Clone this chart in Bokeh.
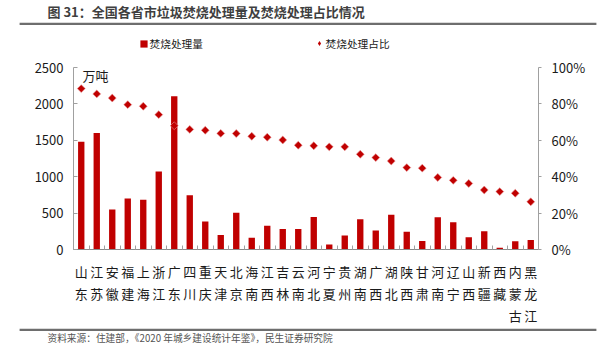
import numpy as np
from bokeh.plotting import figure
from bokeh.layouts import column
from bokeh.models import (Range1d, LinearAxis, FixedTicker, PrintfTickFormatter,
                          Label, Legend, LegendItem)
from bokeh.embed import file_html
from bokeh.resources import INLINE

# ---- data ----
provinces = ["山东", "江苏", "安徽", "福建", "上海", "浙江", "广东", "四川", "重庆", "天津",
             "北京", "海南", "江西", "吉林", "云南", "河北", "宁夏", "贵州", "湖南", "广西",
             "湖北", "陕西", "甘肃", "河南", "辽宁", "山西", "新疆", "西藏", "内蒙古", "黑龙江"]
volume = [1480, 1600, 550, 700, 683, 1070, 2105, 746, 385, 199,
          506, 163, 325, 280, 280, 448, 68, 194, 416, 262,
          479, 244, 118, 443, 375, 167, 249, 23, 113, 131]
share = [88.4, 85.5, 83.2, 79.6, 78.7, 74.1, 68.0, 66.0, 65.5, 63.8,
         63.7, 62.2, 61.7, 60.2, 57.3, 57.0, 56.4, 56.4, 52.3, 50.5,
         48.6, 45.0, 44.7, 39.6, 38.0, 36.3, 32.7, 31.8, 30.9, 26.2]
left_ticks = [0, 500, 1000, 1500, 2000, 2500]
right_ticks = [0, 20, 40, 60, 80, 100]

title_text = "图 31：全国各省市垃圾焚烧处理量及焚烧处理占比情况"
source_text = "资料来源：住建部，《2020 年城乡建设统计年鉴》，民生证券研究院"
unit_text = "万吨"
series_names = ["焚烧处理量", "焚烧处理占比"]

FONT = "Noto Sans CJK SC"
RED = "#c00000"
RULE = "#6e6e6e"
W = 612
H_HEAD, H_MAIN, H_FOOT = 52, 276, 24
TEXT_SHIFT = 22  # compensates the label offset seen in the header/footer strips
RULE_X0, RULE_X1 = 19, 596


def blank_fig(h):
    f = figure(frame_width=W, frame_height=h, output_backend="svg", toolbar_location=None,
               x_range=Range1d(0, W), y_range=Range1d(0, h),
               x_axis_location=None, y_axis_location=None,
               min_border=0, min_border_left=0, min_border_right=0,
               min_border_top=0, min_border_bottom=0, frame_align=False)
    f.outline_line_color = None
    f.xgrid.visible = False
    f.ygrid.visible = False
    return f


def add_rule(fig, h, y_top):
    """Thin horizontal rule whose top edge is y_top px below the strip's top."""
    # 1) background box of a blank monospace label (2px font -> ~2px tall box)
    n_spaces = int(round((RULE_X1 - RULE_X0) / (0.602 * 2)))
    fig.add_layout(Label(x=RULE_X0 + TEXT_SHIFT, y=h - y_top, x_units="screen",
                         y_units="screen", text=" " * n_spaces,
                         text_font="DejaVu Sans Mono", text_font_size="2px",
                         text_baseline="top", text_alpha=0,
                         background_fill_color=RULE, background_fill_alpha=1))
    # 2) wide area-glyph legend swatch at the same place
    proxy = fig.vbar(x=[np.nan], top=[np.nan], width=1, fill_color=RULE, line_color=None)
    gw = int(round((RULE_X1 - RULE_X0) / 0.8))
    fig.add_layout(Legend(items=[LegendItem(label=" ", renderers=[proxy])],
                          location=(RULE_X0 - 0.1 * gw, h - y_top - 2.75),
                          glyph_width=gw, glyph_height=3, label_height=3,
                          label_standoff=0, padding=0, margin=0,
                          border_line_color=None, background_fill_alpha=0,
                          label_text_font_size="1px"), "center")


# ---- header: title, rule, legend ----
head = blank_fig(H_HEAD)
head.add_layout(Label(x=25 + TEXT_SHIFT, y=H_HEAD - 10.5, x_units="screen", y_units="screen",
                      text=title_text, text_font=FONT, text_font_size="13px",
                      text_font_style="bold", text_color="#3f3f3f", text_baseline="middle"))
add_rule(head, H_HEAD, 22.5)
proxy_bar = head.vbar(x=[np.nan], top=[np.nan], width=1, fill_color=RED, line_color=None)
proxy_dot = head.scatter(x=[np.nan], y=[np.nan], marker="diamond", fill_color=RED,
                         line_color=None)
leg1 = Legend(items=[LegendItem(label=series_names[0], renderers=[proxy_bar])],
              location=(138.5, 1.5), glyph_width=9, glyph_height=9, label_height=12,
              label_standoff=2, padding=0, margin=0, border_line_color=None,
              background_fill_alpha=0, label_text_font=FONT, label_text_font_size="10.7px",
              label_text_color="#1a1a1a")
leg2 = Legend(items=[LegendItem(label=series_names[1], renderers=[proxy_dot])],
              location=(312.5, 1.5), glyph_width=12, glyph_height=12, label_height=12,
              label_standoff=1, padding=0, margin=0, border_line_color=None,
              background_fill_alpha=0, label_text_font=FONT, label_text_font_size="10.7px",
              label_text_color="#1a1a1a")
head.add_layout(leg1, "center")
head.add_layout(leg2, "center")

# ---- main chart ----
idx = np.arange(len(provinces))
p = figure(width=W, height=H_MAIN, output_backend="svg", toolbar_location=None,
           x_range=Range1d(-0.5, len(provinces) - 0.5), y_range=Range1d(0, 2500),
           min_border_left=73, min_border_right=74, min_border_top=67 - H_HEAD,
           min_border_bottom=H_HEAD + H_MAIN - 251, frame_align=False)
p.outline_line_color = None
p.xgrid.visible = False
p.ygrid.visible = False
p.extra_y_ranges = {"pct": Range1d(0, 100)}

bars = p.vbar(x=idx, top=volume, width=0.41, fill_color=RED, line_color=None)
dots = p.scatter(x=idx, y=share, marker="square", angle=np.pi / 4, size=5.6,
                 fill_color=RED, line_color="#e89090", line_width=0.6, y_range_name="pct")

xa = p.xaxis[0]
xa.ticker = FixedTicker(ticks=list(idx), minor_ticks=[i - 0.5 for i in range(len(provinces) + 1)])
xa.major_label_overrides = {int(i): "\n".join(name) for i, name in zip(idx, provinces)}
xa.major_tick_line_color = None
xa.major_tick_in = 0
xa.major_tick_out = 0
xa.minor_tick_in = 4
xa.minor_tick_out = 0
xa.minor_tick_line_color = "#a0a0a0"
xa.axis_line_color = "#8c8c8c"
xa.major_label_standoff = 12
xa.major_label_text_font = FONT
xa.major_label_text_font_size = "13px"
xa.major_label_text_color = "#1a1a1a"
xa.major_label_text_line_height = 1.18

ya = p.yaxis[0]
ya.ticker = FixedTicker(ticks=left_ticks)
ya.major_tick_in = 4
ya.major_tick_out = 0
ya.minor_tick_line_color = None
ya.major_tick_line_color = "#a0a0a0"
ya.axis_line_color = "#a0a0a0"
ya.major_label_standoff = 10
ya.major_label_text_font = FONT
ya.major_label_text_font_size = "13px"
ya.major_label_text_color = "#1a1a1a"

ra = LinearAxis(y_range_name="pct", ticker=FixedTicker(ticks=right_ticks),
                formatter=PrintfTickFormatter(format="%d%%"))
ra.major_tick_in = 0
ra.major_tick_out = 3
ra.minor_tick_line_color = None
ra.major_tick_line_color = "#a0a0a0"
ra.axis_line_color = "#a0a0a0"
ra.major_label_standoff = 10
ra.major_label_text_font = FONT
ra.major_label_text_font_size = "13px"
ra.major_label_text_color = "#1a1a1a"
p.add_layout(ra, "right")

p.add_layout(Label(x=9, y=184, x_units="screen", y_units="screen", text=unit_text,
                   text_font=FONT, text_font_size="13px", text_color="#1a1a1a",
                   text_baseline="top"))

# ---- footer: rule, source ----
foot = blank_fig(H_FOOT)
add_rule(foot, H_FOOT, 0.7)
foot.add_layout(Label(x=25 + TEXT_SHIFT, y=H_FOOT - 9, x_units="screen", y_units="screen",
                      text=source_text, text_font=FONT, text_font_size="9.7px",
                      text_color="#555555", text_baseline="middle"))

layout = column(head, p, foot, spacing=0)
open("out.html", "w").write(file_html(layout, INLINE))
